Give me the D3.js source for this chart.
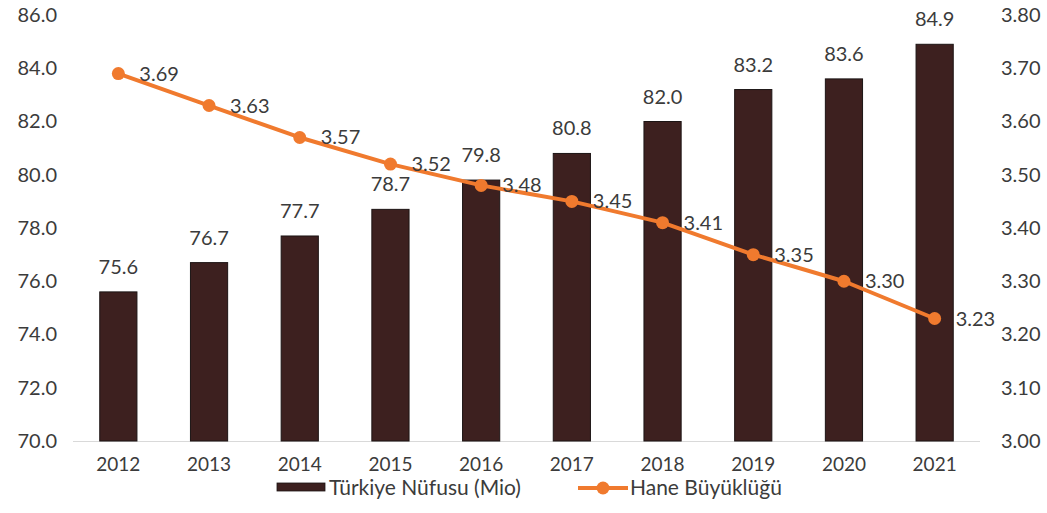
<!DOCTYPE html>
<html><head><meta charset="utf-8">
<script src="https://cdn.jsdelivr.net/npm/d3@7"></script>
<style>
body{margin:0;background:#fff;}
text{font-family:Lato,"Open Sans",sans-serif;fill:#3b3b3b;}
</style></head>
<body>
<svg id="c" width="1047" height="513"></svg>
<script>
const years = ["2012","2013","2014","2015","2016","2017","2018","2019","2020","2021"];
const population = [75.6, 76.7, 77.7, 78.7, 79.8, 80.8, 82.0, 83.2, 83.6, 84.9];
const householdSize = [3.69, 3.63, 3.57, 3.52, 3.48, 3.45, 3.41, 3.35, 3.30, 3.23];
const leftTicks = [70, 72, 74, 76, 78, 80, 82, 84, 86];
const rightTicks = [3.0, 3.1, 3.2, 3.3, 3.4, 3.5, 3.6, 3.7, 3.8];
const seriesNames = ["Türkiye Nüfusu (Mio)", "Hane Büyüklüğü"];

(function(){
const barColor = "#3d201f", barStroke = "#1c1414", lineColor = "#f07a2e";
const svg = d3.select("#c");
const pL = 73, pR = 980, pT = 15, pB = 441;

const x = d3.scaleBand().domain(years).range([pL, pR]).paddingInner(0.59).paddingOuter(0.295);
const yL = d3.scaleLinear().domain([70, 86]).range([pB, pT]);
const yR = d3.scaleLinear().domain([3.0, 3.8]).range([pB, pT]);

const axL = svg.append("g").attr("transform", `translate(${pL - 16},0)`)
  .call(d3.axisLeft(yL).tickValues(leftTicks).tickFormat(d3.format(".1f")).tickSize(0));
axL.select(".domain").remove();
axL.selectAll("text").attr("font-size", 20).attr("fill", "#3b3b3b").attr("x", 0).style("font-family", "Lato");

const axR = svg.append("g").attr("transform", `translate(1001,0)`)
  .call(d3.axisRight(yR).tickValues(rightTicks).tickFormat(d3.format(".2f")).tickSize(0));
axR.select(".domain").remove();
axR.selectAll("text").attr("font-size", 20).attr("fill", "#3b3b3b").attr("x", 0).style("font-family", "Lato");

svg.append("line").attr("x1", pL).attr("x2", pR).attr("y1", pB + 0.5).attr("y2", pB + 0.5)
  .attr("stroke", "#d9d9d9").attr("stroke-width", 1);

svg.selectAll("rect.bar").data(population).enter().append("rect").attr("class", "bar")
  .attr("x", (d, i) => x(years[i])).attr("width", x.bandwidth())
  .attr("y", d => yL(d)).attr("height", d => pB - yL(d))
  .attr("fill", barColor).attr("stroke", barStroke).attr("stroke-width", 1);

svg.selectAll("text.blab").data(population).enter().append("text").attr("class", "blab")
  .attr("x", (d, i) => x(years[i]) + x.bandwidth() / 2).attr("y", d => yL(d) - 18)
  .attr("text-anchor", "middle").attr("font-size", 20).text(d => d3.format(".1f")(d));

const axX = svg.append("g").attr("transform", `translate(0,${pB})`)
  .call(d3.axisBottom(x).tickSize(0).tickPadding(17));
axX.select(".domain").remove();
axX.selectAll("text").attr("font-size", 19).attr("fill", "#3b3b3b").style("font-family", "Lato");

const cx = i => x(years[i]) + x.bandwidth() / 2;
const line = d3.line().x((d, i) => cx(i)).y(d => yR(d));
svg.append("path").datum(householdSize).attr("d", line).attr("fill", "none")
  .attr("stroke", lineColor).attr("stroke-width", 4).attr("stroke-linejoin", "round");
svg.selectAll("circle.pt").data(householdSize).enter().append("circle").attr("class", "pt")
  .attr("cx", (d, i) => cx(i)).attr("cy", d => yR(d)).attr("r", 6.5).attr("fill", lineColor);
svg.selectAll("text.llab").data(householdSize).enter().append("text").attr("class", "llab")
  .attr("x", (d, i) => cx(i) + 21).attr("y", d => yR(d) + 7)
  .attr("font-size", 20).text(d => d3.format(".2f")(d));

const lg = svg.append("g");
lg.append("rect").attr("x", 277).attr("y", 483).attr("width", 48).attr("height", 8)
  .attr("fill", barColor).attr("stroke", barStroke).attr("stroke-width", 0.8);
lg.append("text").attr("x", 329).attr("y", 495).attr("font-size", 21).text(seriesNames[0]);
lg.append("line").attr("x1", 578).attr("x2", 628).attr("y1", 488).attr("y2", 488)
  .attr("stroke", lineColor).attr("stroke-width", 4);
lg.append("circle").attr("cx", 603).attr("cy", 488).attr("r", 6.5).attr("fill", lineColor);
lg.append("text").attr("x", 630).attr("y", 495).attr("font-size", 21).text(seriesNames[1]);
})();
</script>
</body></html>
